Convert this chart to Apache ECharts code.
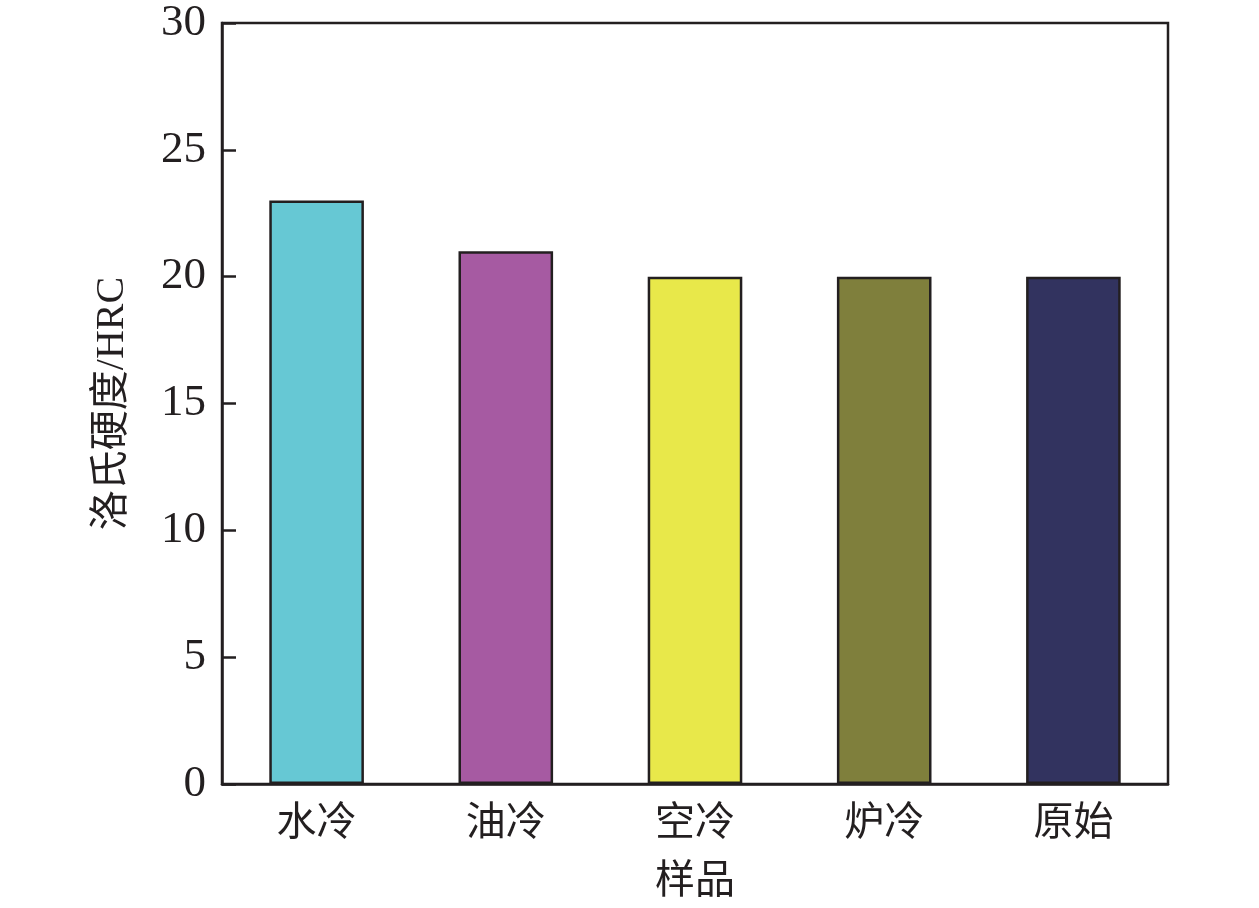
<!DOCTYPE html>
<html>
<head>
<meta charset="UTF-8">
<title>洛氏硬度</title>
<script type="text/javascript" src="https://cdn.jsdelivr.net/npm/echarts@6/dist/echarts.min.js"></script>
<style type="text/css">
html, body { margin: 0; padding: 0; background: #fff; }
#chart { width: 1259px; height: 908px; }
</style>
</head>
<body>
<div id="chart"></div>
<script type="text/javascript">
	var categories = ['水冷', '油冷', '空冷', '炉冷', '原始'];
	var hardness = [23, 21, 20, 20, 20];
	var barColors = ['#66C8D4', '#A65AA2', '#E8E84A', '#7F7F3C', '#32335F'];

	var font = '"Liberation Serif", "Times New Roman", "Noto Sans CJK SC", serif';
	var myChart = echarts.init(document.getElementById('chart'));

	var data = [];
	for (var i = 0; i < hardness.length; i++) {
		data.push({
			value : hardness[i],
			itemStyle : { color : barColors[i] }
		});
	}

	var option = {
		animation : false,
		grid : {
			left : 222,
			top : 23,
			width : 946,
			height : 761,
			show : true,
			borderColor : '#231f20',
			borderWidth : 2.5,
			backgroundColor : 'transparent'
		},
		xAxis : {
			type : 'category',
			data : categories,
			name : '样品',
			nameLocation : 'middle',
			nameGap : 78,
			nameTextStyle : { fontFamily : font, fontSize : 40, color : '#231f20' },
			axisLine : { lineStyle : { color : '#231f20', width : 2.5 } },
			axisTick : { show : false },
			axisLabel : { fontFamily : font, fontSize : 40, color : '#231f20', margin : 20 }
		},
		yAxis : {
			type : 'value',
			min : 0,
			max : 30,
			interval : 5,
			name : '洛氏硬度/HRC',
			nameLocation : 'middle',
			nameGap : 90,
			nameTextStyle : { fontFamily : font, fontSize : 40, color : '#231f20' },
			axisLine : { show : true, lineStyle : { color : '#231f20', width : 2.5 } },
			axisTick : { show : true, inside : true, length : 14, lineStyle : { color : '#231f20', width : 2.5 } },
			splitLine : { show : false },
			axisLabel : { fontFamily : font, fontSize : 45, color : '#231f20', margin : 16 }
		},
		series : [ {
			type : 'bar',
			barWidth : '50%',
			data : data,
			itemStyle : { borderColor : '#231f20', borderWidth : 2.5 }
		} ]
	};
	myChart.setOption(option);
</script>
</body>
</html>
